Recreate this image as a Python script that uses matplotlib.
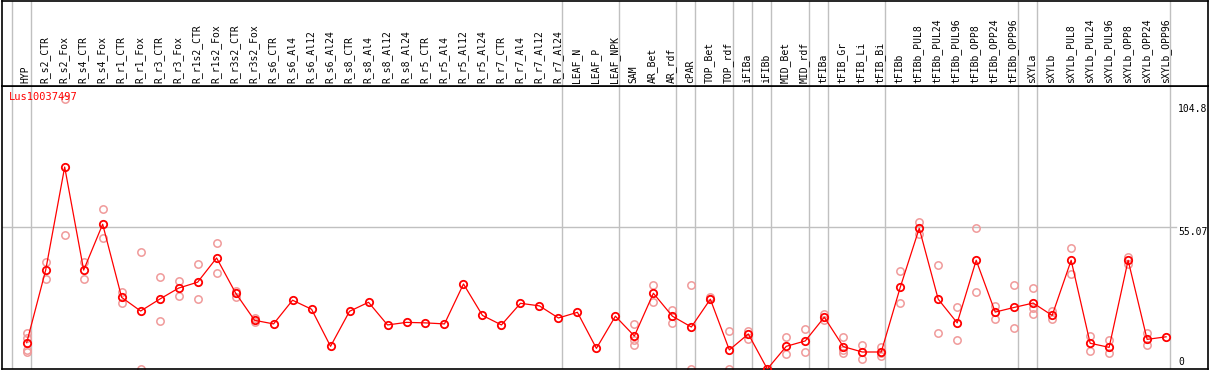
"""
Lus10037497 表达谱 — 各组织/处理均值折线 + 重复点
"""

import matplotlib
matplotlib.use("Agg")
import matplotlib.pyplot as plt
from matplotlib.transforms import blended_transform_factory, offset_copy

# ============================================================
# 数据
# ============================================================
GENE = "Lus10037497"

SAMPLES = [
    "HYP",
    "R_s2_CTR", "R_s2_Fox", "R_s4_CTR", "R_s4_Fox",
    "R_r1_CTR", "R_r1_Fox", "R_r3_CTR", "R_r3_Fox",
    "R_r1s2_CTR", "R_r1s2_Fox", "R_r3s2_CTR", "R_r3s2_Fox",
    "R_s6_CTR", "R_s6_Al4", "R_s6_Al12", "R_s6_Al24",
    "R_s8_CTR", "R_s8_Al4", "R_s8_Al12", "R_s8_Al24",
    "R_r5_CTR", "R_r5_Al4", "R_r5_Al12", "R_r5_Al24",
    "R_r7_CTR", "R_r7_Al4", "R_r7_Al12", "R_r7_Al24",
    "LEAF_N", "LEAF_P", "LEAF_NPK",
    "SAM", "AR_Bet", "AR_rdf", "cPAR", "TOP_Bet", "TOP_rdf",
    "iFIBa", "iFIBb", "MID_Bet", "MID_rdf",
    "tFIBa", "tFIB_Gr", "tFIB_Li", "tFIB_Bi",
    "tFIBb", "tFIBb_PUL8", "tFIBb_PUL24", "tFIBb_PUL96",
    "tFIBb_OPP8", "tFIBb_OPP24", "tFIBb_OPP96",
    "sXYLa", "sXYLb", "sXYLb_PUL8", "sXYLb_PUL24", "sXYLb_PUL96",
    "sXYLb_OPP8", "sXYLb_OPP24", "sXYLb_OPP96",
]

# 均值
MEANS = [
    10.2,
    38.4, 78.4, 38.4, 56.2,
    27.8, 22.5, 27.1, 31.4,
    33.7, 43.1, 29.5, 18.9,
    17.5, 26.7, 23.2, 8.8,
    22.4, 25.9, 17.1, 18.1,
    17.9, 17.5, 33.0, 20.8,
    17.1, 25.5, 24.5, 19.8,
    22.0, 8.0, 20.5,
    12.8, 29.4, 20.5, 16.3, 27.1, 7.4,
    13.6, 0.0, 8.8, 10.9,
    20.1, 8.7, 6.6, 6.6,
    31.7, 54.6, 27.1, 17.9,
    42.2, 22.1, 23.9,
    25.6, 20.8, 42.2, 10.0, 8.4,
    42.2, 11.5, 12.5,
]

# 生物学重复（样本序号 -> 各重复值）
REPLICATES = {
    0: [14.1, 11.9, 7.4, 6.5],
    1: [41.4, 34.9],
    2: [104.8, 51.9],
    3: [41.6, 34.9],
    4: [62.0, 50.7],
    5: [29.9, 25.5],
    6: [45.3, 0.0],
    7: [35.6, 18.6],
    8: [34.0, 28.5],
    9: [40.6, 27.1],
    10: [48.8, 37.1],
    11: [30.4, 28.1],
    12: [19.9, 18.1],
    32: [17.5, 11.3, 9.2],
    33: [32.5, 26.1],
    34: [22.9, 17.7],
    35: [32.5, 0.0],
    36: [28.1, 27.3],
    37: [14.6, 0.0],
    38: [14.9, 11.6],
    40: [12.3, 5.7],
    41: [15.4, 6.5],
    42: [21.2, 19.0],
    43: [12.5, 7.4, 6.1],
    44: [9.3, 3.8],
    45: [8.7, 6.1, 5.0],
    46: [38.0, 25.5],
    47: [57.1, 52.3],
    48: [40.3, 13.9],
    49: [24.2, 11.3],
    50: [54.6, 30.0],
    51: [24.5, 19.4],
    52: [32.5, 15.8],
    53: [31.3, 23.6, 21.2],
    54: [22.5, 19.4],
    55: [46.9, 37.0],
    56: [12.7, 7.0],
    57: [11.3, 6.1],
    58: [43.6, 40.8],
    59: [14.1, 9.2],
}

# 分组边界（在该序号之后画竖线）
GROUP_ENDS = [-1, 0, 28, 31, 34, 35, 37, 38, 39, 41, 42, 45, 52, 53, 60]

Y_MAX = 104.8
Y_MID = 55.07

# ============================================================
# 样式
# ============================================================
W, H = 1209, 370
DPI = 100
RED = "#ff0000"
PINK = "#f09a9a"
GRID = "#c0c0c0"
FONT = "DejaVu Sans Mono"
FS = 7.0

X0_PX = 26.7      # 第一个样本的像素位置
STEP_PX = 18.99   # 样本间距
AX_LEFT, AX_RIGHT = 1.5, 1207.5
HEAD_Y = 86       # 表头分隔线
BOT_Y = 369
PX_PER_UNIT = (BOT_Y - 99) / Y_MAX

fig = plt.figure(figsize=(W / DPI, H / DPI), dpi=DPI)
fig.patch.set_facecolor("white")

xl = (-(X0_PX - AX_LEFT) / STEP_PX, (AX_RIGHT - X0_PX) / STEP_PX)

ax = fig.add_axes([AX_LEFT / W, (H - BOT_Y) / H,
                   (AX_RIGHT - AX_LEFT) / W, (BOT_Y - HEAD_Y) / H])
head = fig.add_axes([AX_LEFT / W, (H - HEAD_Y) / H,
                     (AX_RIGHT - AX_LEFT) / W, (HEAD_Y - 0.5) / H])

for a in (ax, head):
    a.set_xlim(*xl)
    a.set_xticks([])
    a.set_yticks([])
    for s in a.spines.values():
        s.set_color("black")
        s.set_linewidth(1.2)
    for g in GROUP_ENDS:
        a.axvline(g + 4 / STEP_PX, color=GRID, lw=1.0, zorder=0)

ax.set_ylim(0, (BOT_Y - HEAD_Y) / PX_PER_UNIT)
head.set_ylim(0, 1)

# 表头样本名
x = list(range(len(SAMPLES)))
trans_h = blended_transform_factory(head.transData, head.transAxes)
for i, name in enumerate(SAMPLES):
    head.text(i - 0.05, 0.035, name, rotation=90, ha="center", va="bottom",
              fontsize=FS, family=FONT, color="black", transform=trans_h)

# 横向参考线
ax.axhline(Y_MID, xmax=(1176 - AX_LEFT) / (AX_RIGHT - AX_LEFT),
           color=GRID, lw=1.0, zorder=0)

# 重复点
for i, vals in REPLICATES.items():
    ax.plot([i] * len(vals), vals, linestyle="none", marker="o",
            markersize=5.3, markerfacecolor="none", markeredgecolor=PINK,
            markeredgewidth=1.1, zorder=2)

# 均值折线
ax.plot(x, MEANS, color=RED, lw=0.9, marker="o", markersize=5.3,
        markerfacecolor="none", markeredgecolor=RED, markeredgewidth=1.3,
        zorder=3)

# 右侧刻度文字
trans_y = blended_transform_factory(fig.transFigure, ax.transData)
for val, lab, va, dy in [(Y_MAX, "104.8", "top", -5),
                         (Y_MID, "55.07", "top", 0),
                         (0, "0", "bottom", 2)]:
    t = offset_copy(trans_y, fig=fig, x=0, y=dy, units="dots")
    ax.text(1178 / W, val, lab, ha="left", va=va, fontsize=FS,
            family=FONT, color="black", transform=t, clip_on=False)

# 基因名
ax.text(9 / W, 1 - (97 - HEAD_Y) / (BOT_Y - HEAD_Y), GENE,
        transform=blended_transform_factory(fig.transFigure, ax.transAxes),
        ha="left", va="center", fontsize=FS + 0.5, family=FONT, color=RED)

fig.savefig("out.png", dpi=DPI)
plt.close(fig)
